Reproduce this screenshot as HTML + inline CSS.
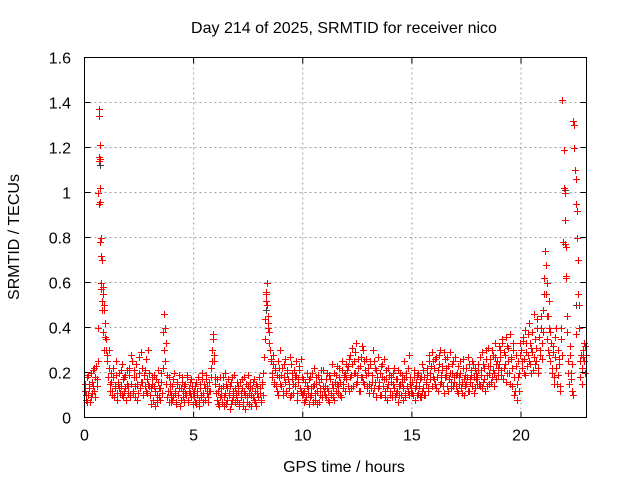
<!DOCTYPE html>
<html><head><meta charset="utf-8"><style>
body{margin:0;background:#fff;}
svg text{font-family:"Liberation Sans",sans-serif;fill:#000;}
</style></head><body>
<svg id="chart" width="640" height="480" xmlns="http://www.w3.org/2000/svg">
<rect width="640" height="480" fill="#fff"/>
<text x="344" y="33" font-size="16" text-anchor="middle">Day 214 of 2025, SRMTID for receiver nico</text>
<text x="344" y="472" font-size="16" text-anchor="middle">GPS time / hours</text>
<text transform="translate(19,237) rotate(-90)" font-size="16" text-anchor="middle">SRMTID / TECUs</text>
<g id="grid"></g><g id="ticks"></g><g id="pts2"></g><g id="pts"></g>
<rect x="84.5" y="57.5" width="502" height="360" fill="none" stroke="#000" stroke-width="1"/>
</svg>
<script>
const xTicks=[0,5,10,15,20];
const yTicks=[0,0.2,0.4,0.6,0.8,1,1.2,1.4,1.6];
const yTickLabels=["0","0.2","0.4","0.6","0.8","1","1.2","1.4","1.6"];
const hours=[0,1,2,3,4,5,6,7,8,9,10,11,12,13,14,15,16,17,18,19,20,21,22];
const hourValues=[
[.12,.08,.18,.10,.15,.07,.20,.11,.14,.22,.09,.17,.25,1.34,1.15,.80,.70,.55,.50,.42],
[.35,.28,.22,.15,.20,.12,.18,.09,.14,.25,.11,.16,.13,.21,.10,.17,.12,.19,.08,.15],
[.14,.22,.10,.28,.12,.18,.09,.24,.15,.11,.20,.13,.29,.16,.10,.21,.12,.17,.30,.14],
[.10,.06,.15,.08,.19,.12,.07,.16,.09,.13,.20,.11,.38,.46,.25,.15,.09,.18,.12,.07],
[.14,.09,.20,.11,.06,.16,.10,.13,.08,.18,.12,.07,.15,.10,.19,.08,.13,.11,.17,.06],
[.09,.14,.06,.12,.18,.08,.15,.10,.20,.07,.13,.17,.11,.09,.16,.12,.22,.30,.37,.25],
[.15,.08,.12,.05,.18,.10,.07,.14,.09,.20,.06,.13,.11,.04,.16,.08,.12,.19,.07,.10],
[.08,.14,.05,.11,.17,.07,.12,.04,.15,.09,.19,.06,.13,.10,.16,.08,.12,.05,.14,.09],
[.18,.11,.07,.15,.20,.35,.52,.60,.45,.38,.30,.25,.20,.28,.15,.22,.12,.25,.18,.30],
[.14,.22,.10,.18,.26,.12,.20,.15,.09,.24,.17,.11,.21,.14,.19,.08,.16,.23,.12,.18],
[.11,.07,.16,.09,.20,.13,.06,.18,.10,.14,.22,.08,.15,.12,.19,.07,.13,.17,.10,.21],
[.14,.09,.20,.12,.07,.17,.10,.24,.13,.08,.19,.15,.11,.22,.16,.09,.25,.13,.18,.20],
[.17,.23,.12,.28,.19,.31,.14,.25,.20,.33,.16,.22,.12,.27,.18,.30,.15,.21,.26,.13],
[.20,.11,.25,.16,.30,.13,.22,.09,.18,.27,.14,.20,.10,.24,.17,.12,.21,.08,.15,.19],
[.12,.18,.09,.15,.22,.11,.17,.07,.14,.20,.10,.16,.13,.25,.09,.18,.12,.28,.15,.11],
[.16,.10,.21,.08,.14,.19,.11,.17,.09,.24,.13,.18,.10,.15,.22,.12,.28,.20,.14,.25],
[.22,.15,.27,.18,.12,.24,.30,.16,.21,.11,.26,.19,.14,.23,.17,.29,.13,.20,.25,.16],
[.14,.20,.11,.18,.25,.13,.16,.22,.10,.19,.15,.27,.12,.17,.21,.14,.24,.18,.13,.20],
[.18,.24,.14,.21,.29,.16,.22,.12,.26,.19,.31,.15,.23,.18,.28,.20,.33,.17,.25,.22],
[.24,.30,.19,.35,.22,.28,.16,.32,.25,.20,.37,.27,.14,.30,.10,.23,.08,.18,.12,.28],
[.30,.22,.36,.26,.19,.33,.28,.42,.24,.31,.38,.21,.27,.35,.25,.44,.20,.30,.40,.26],
[.48,.62,.74,.55,.35,.45,.28,.38,.22,.32,.18,.27,.40,.15,.30,.24,.12,.35,1.41,1.19],
[1.0,.76,.45,.25,.15,.32,.20,.12,1.32,1.20,1.06,.92,.70,.50,.18,.28,.22,.30,.25,.32]
];
const hourValuesB=[
[.15,.10,.07,.19,.13,.09,.16,.21,.12,.18,.23,.14,.40,1.14,.96,.72,.58,.48,.36,.30],
[.25,.18,.30,.12,.16,.10,.22,.13,.19,.08,.15,.20,.11,.14,.24,.09,.18,.13,.21,.11],
[.19,.09,.15,.25,.11,.21,.14,.18,.08,.27,.13,.16,.22,.10,.19,.14,.26,.11,.15,.20],
[.13,.18,.08,.14,.05,.17,.10,.21,.13,.08,.16,.22,.30,.40,.33,.19,.12,.07,.15,.10],
[.08,.17,.12,.07,.15,.10,.19,.05,.13,.16,.09,.14,.11,.18,.07,.12,.16,.09,.14,.11],
[.12,.07,.16,.10,.05,.13,.09,.17,.11,.15,.08,.19,.14,.07,.12,.18,.25,.35,.28,.18],
[.11,.17,.06,.14,.09,.13,.18,.05,.11,.15,.08,.17,.10,.14,.06,.18,.09,.13,.11,.16],
[.12,.06,.16,.09,.13,.05,.18,.10,.07,.14,.11,.16,.05,.13,.09,.17,.07,.15,.11,.18],
[.13,.08,.16,.10,.27,.44,.56,.50,.40,.33,.26,.18,.24,.16,.21,.14,.19,.10,.22,.15],
[.19,.12,.24,.16,.11,.21,.17,.13,.27,.10,.20,.15,.18,.25,.11,.17,.21,.13,.26,.10],
[.17,.12,.08,.14,.11,.17,.09,.13,.20,.07,.15,.11,.18,.06,.16,.10,.21,.09,.14,.12],
[.10,.17,.13,.08,.19,.11,.15,.09,.20,.16,.12,.23,.14,.18,.10,.21,.15,.19,.12,.24],
[.21,.14,.26,.18,.13,.24,.20,.29,.15,.19,.26,.12,.23,.18,.32,.16,.25,.19,.14,.22],
[.15,.24,.13,.19,.11,.25,.16,.21,.13,.16,.10,.23,.18,.14,.26,.09,.17,.13,.22,.10],
[.16,.10,.20,.13,.09,.17,.12,.21,.10,.15,.19,.08,.17,.11,.20,.14,.22,.10,.18,.13],
[.11,.18,.13,.16,.10,.20,.14,.09,.18,.12,.21,.10,.16,.19,.13,.25,.17,.23,.29,.18],
[.17,.26,.13,.21,.28,.15,.19,.23,.14,.29,.18,.22,.27,.12,.20,.16,.24,.14,.18,.27],
[.19,.12,.23,.15,.20,.11,.26,.17,.14,.22,.18,.12,.24,.16,.19,.25,.11,.22,.17,.15],
[.21,.15,.27,.19,.13,.24,.17,.30,.14,.23,.20,.26,.16,.30,.21,.14,.27,.24,.19,.32],
[.27,.21,.33,.17,.29,.24,.36,.20,.31,.15,.26,.22,.33,.18,.12,.28,.15,.25,.20,.33],
[.25,.34,.20,.39,.29,.23,.37,.25,.33,.20,.29,.46,.24,.31,.40,.22,.36,.28,.45,.33],
[.38,.55,.68,.45,.30,.40,.25,.33,.20,.29,.15,.36,.22,.19,.26,.14,.40,.28,.78,1.02],
[.88,.62,.38,.20,.28,.17,.24,.10,1.20,1.10,.95,.80,.55,.40,.25,.15,.27,.33,.20,.28]
];
const spikeTimes=[0.68,0.70,0.62,0.66,0.72,0.75,0.80,0.85,0.78,0.90,0.68,0.71,0.74,0.82,8.3,8.35,8.4,21.2,21.3,21.95,22.0,22.05,22.45,22.5];
const spikeValues=[1.37,1.21,1.0,0.95,0.78,0.60,0.48,0.38,0.70,0.30,1.16,1.02,0.57,0.52,0.55,0.50,0.42,0.60,0.52,1.02,0.77,0.63,1.30,0.37];
const darkTimes=[0.7,0.72,8.3,21.1,22.0,22.5];
const darkValues=[1.21,1.12,0.48,0.74,1.01,0.50];
const step=0.05;
const NS="http://www.w3.org/2000/svg";
const X0=84.5,X1=586.5,XMAX=23,Y0=417.5,Y1=57.5,YMAX=1.6;
function xs(t){return X0+(X1-X0)*t/XMAX;}
function ys(v){return Y0-(Y0-Y1)*v/YMAX;}
function mk(tag,attrs,parent){const e=document.createElementNS(NS,tag);for(const k in attrs)e.setAttribute(k,attrs[k]);parent.appendChild(e);return e;}
const grid=document.getElementById('grid'),ticks=document.getElementById('ticks');
xTicks.forEach(t=>{
 const x=xs(t);
 if(t>0){const l=mk('line',{x1:x,x2:x,y1:Y1,y2:Y0,stroke:'#a0a0a0','stroke-dasharray':'2,3'},grid);
 
 }
 mk('line',{x1:x,x2:x,y1:Y0,y2:Y0-6,stroke:'#000'},ticks);
 mk('line',{x1:x,x2:x,y1:Y1,y2:Y1+6,stroke:'#000'},ticks);
 const tx=mk('text',{x:x,y:Y0+23,'font-size':16,'text-anchor':'middle'},ticks);tx.textContent=t;
 
 
});
yTicks.forEach((v,i)=>{
 const y=ys(v);
 if(v>0&&v<YMAX){const l=mk('line',{x1:X0,x2:X1,y1:y,y2:y,stroke:'#a0a0a0','stroke-dasharray':'2,3'},grid);
 
 }
 mk('line',{x1:X0,x2:X0+6,y1:y,y2:y,stroke:'#000'},ticks);
 mk('line',{x1:X1,x2:X1-6,y1:y,y2:y,stroke:'#000'},ticks);
 const tx=mk('text',{x:71,y:y+6,'font-size':16,'text-anchor':'end'},ticks);tx.textContent=yTickLabels[i];
 
 
});
function plus(t,v,color,parent){
 const x=Math.round(xs(t))+0.5,y=Math.round(ys(v))+0.5;
 const p=mk('path',{d:`M${x-3.5} ${y}H${x+3.5}M${x} ${y-3.5}V${y+3.5}`,stroke:color,'stroke-width':1,fill:'none'},parent);
 
 
}
const pts=document.getElementById('pts'),pts2=document.getElementById('pts2');
darkTimes.forEach((t,i)=>plus(t,darkValues[i],'#404040',pts2));
hours.forEach((h,i)=>hourValues[i].forEach((v,j)=>plus(h+j*step,v,'#ff0000',pts)));
hours.forEach((h,i)=>hourValuesB[i].forEach((v,j)=>plus(h+j*step+step/2,v,'#ff0000',pts)));
spikeTimes.forEach((t,i)=>plus(t,spikeValues[i],'#ff0000',pts));
</script>
</body></html>
